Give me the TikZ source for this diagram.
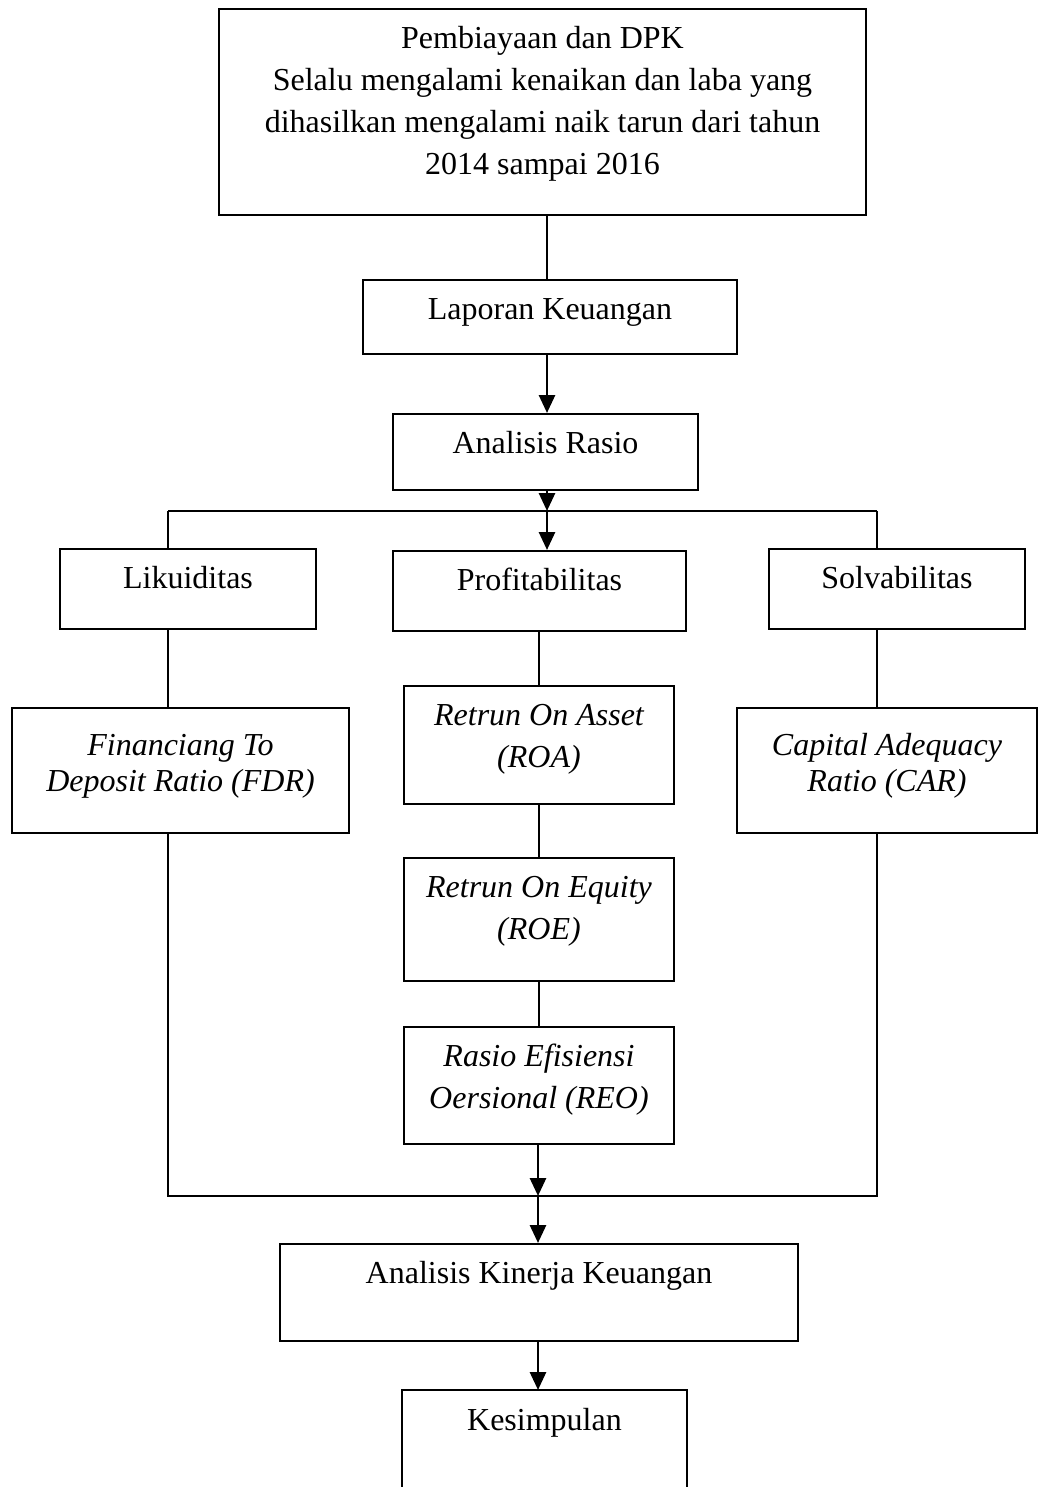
\documentclass[tikz,border=0pt]{standalone}
\usepackage{fontspec}
\setmainfont{Liberation Serif}
\usetikzlibrary{arrows.meta}
\newcommand{\isi}[4][20pt]{\parbox[c][#3][t]{#2}{\centering\rule{0pt}{#1}#4}}

\begin{document}
\begin{tikzpicture}[x=0.5pt,y=-0.5pt,
	font=\fontsize{16pt}{21pt}\selectfont,
	kotak/.style={draw,line width=0.8pt,inner sep=0pt,anchor=north},
	garis/.style={line width=0.6pt},
	panah/.style={line width=1.4pt,-{Triangle[length=9pt,width=8pt]}}]
	\useasboundingbox (0,0) rectangle (1040,1487);

	% Kotak atas
	\node[kotak] (atas) at (542.5,8) {\isi{323.5pt}{103pt}{Pembiayaan dan DPK\\Selalu mengalami kenaikan dan laba yang\\dihasilkan mengalami naik tarun dari tahun\\2014 sampai 2016}};
	\node[kotak] (lap) at (550,279) {\isi{187pt}{37pt}{Laporan Keuangan}};
	\node[kotak] (ar) at (545.5,413) {\isi{152.5pt}{38pt}{Analisis Rasio}};

	% Tiga rasio
	\node[kotak] (lik) at (188,548) {\isi{128pt}{40pt}{Likuiditas}};
	\node[kotak] (prof) at (539.5,550) {\isi{146.5pt}{40pt}{Profitabilitas}};
	\node[kotak] (sol) at (897,548) {\isi{128pt}{40pt}{Solvabilitas}};

	% Indikator
	\node[kotak] (fdr) at (180.5,707) {\isi[24pt]{168.5pt}{62.5pt}{\itshape Financiang To\\[-3pt]Deposit Ratio (FDR)}};
	\node[kotak] (car) at (887,707) {\isi[24pt]{150pt}{62.5pt}{\itshape Capital Adequacy\\[-3pt]Ratio (CAR)}};
	\node[kotak] (roa) at (539,685) {\isi{135pt}{59pt}{\itshape Retrun On Asset\\(ROA)}};
	\node[kotak] (roe) at (539,857) {\isi{135pt}{61.5pt}{\itshape Retrun On Equity\\(ROE)}};
	\node[kotak] (reo) at (539,1026) {\isi{135pt}{58.5pt}{\itshape Rasio Efisiensi\\Oersional (REO)}};

	% Kotak bawah
	\node[kotak] (akk) at (539,1243) {\isi{259pt}{48.5pt}{Analisis Kinerja Keuangan}};
	\node[kotak,draw=none] (kes) at (544.5,1390) {\isi{141.5pt}{50pt}{Kesimpulan}};
	\draw[line width=0.8pt] (kes.south west) -- (kes.north west) -- (kes.north east) -- (kes.south east);

	% Titik cabang
	\coordinate (tengah) at (547,511);
	\coordinate (kiri) at (168,511);
	\coordinate (kanan) at (877,511);
	\coordinate (bawah) at (538,1196);

	% Garis dan panah
	\draw[garis] (atas.south -| tengah) -- (lap.north -| tengah);
	\draw[panah] (lap.south -| tengah) -- (ar.north -| tengah);
	\draw[panah] (ar.south -| tengah) -- (tengah);
	\draw[garis] (kiri) -- (kanan);
	\draw[panah] (tengah) -- (prof.north -| tengah);
	\draw[garis] (kiri) -- (lik.north -| kiri);
	\draw[garis] (kanan) -- (sol.north -| kanan);
	\draw[garis] (lik.south -| kiri) -- (fdr.north -| kiri);
	\draw[garis] (sol.south -| kanan) -- (car.north -| kanan);
	\draw[garis] (prof.south -| roa.north) -- (roa.north);
	\draw[garis] (roa.south) -- (roe.north);
	\draw[garis] (roe.south) -- (reo.north);
	\draw[garis] (fdr.south -| kiri) -- (kiri |- bawah) -- (kanan |- bawah) -- (car.south -| kanan);
	\draw[panah] (reo.south -| bawah) -- (bawah);
	\draw[panah] (bawah) -- (akk.north -| bawah);
	\draw[panah] (akk.south -| bawah) -- (kes.north -| bawah);
\end{tikzpicture}
\end{document}
